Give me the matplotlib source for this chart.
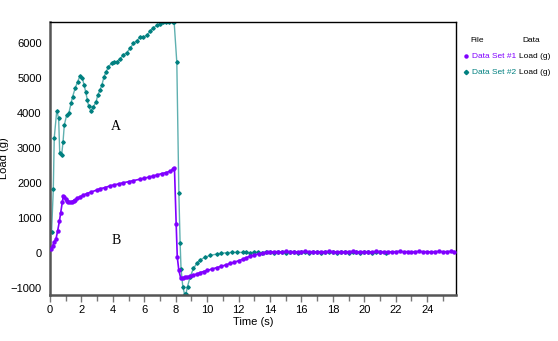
import numpy as np
import matplotlib
matplotlib.use("Agg")
import matplotlib.pyplot as plt
from matplotlib.ticker import MultipleLocator

plt.rcParams['font.family'] = ['Liberation Sans', 'DejaVu Sans']

# Data Set #1 (purple)
t1 = [0.04, 0.17, 0.27, 0.38, 0.49, 0.6, 0.68, 0.79, 0.85, 0.92, 0.99, 1.08, 1.17, 1.27,
      1.38, 1.5, 1.6, 1.75, 1.91, 2.1, 2.34, 2.6, 2.97, 3.2, 3.5, 3.82, 4.1, 4.4, 4.67,
      5.0, 5.3, 5.73, 6.0, 6.3, 6.55, 6.8, 7.1, 7.4, 7.65, 7.85, 7.92, 8.03, 8.1, 8.2,
      8.32, 8.45, 8.58, 8.7, 8.9, 9.13, 9.35, 9.55, 9.77, 10.0, 10.3, 10.6, 10.9, 11.2,
      11.45, 11.7, 12.0, 12.25, 12.5, 12.74, 13.0, 13.3, 13.55, 13.8,
      14.0, 14.25, 14.5, 14.75, 15.0, 15.25, 15.5, 15.75, 16.0, 16.25, 16.5, 16.75,
      17.0, 17.25, 17.5, 17.75, 18.0, 18.25, 18.5, 18.75, 19.0, 19.25, 19.5, 19.75,
      20.0, 20.25, 20.5, 20.75, 21.0, 21.25, 21.5, 21.75, 22.0, 22.25, 22.5, 22.75,
      23.0, 23.25, 23.5, 23.75, 24.0, 24.25, 24.5, 24.75, 25.0, 25.25, 25.5, 25.7]
load1 = [110, 200, 320, 400, 640, 910, 1150, 1470, 1630, 1590, 1550, 1500, 1470, 1460,
         1470, 1500, 1520, 1570, 1610, 1650, 1700, 1740, 1800, 1840, 1870, 1920, 1950, 1980, 2010,
         2040, 2070, 2110, 2140, 2170, 2200, 2230, 2270, 2300, 2340, 2400, 2430, 820, -120, -500,
         -720, -720, -700, -690, -660, -630, -600, -560, -530, -500, -460, -420, -380, -340,
         -300, -270, -220, -180, -130, -90, -60, -20, 0, 20,
         30, 35, 40, 30, 45, 35, 40, 30, 40, 45, 35, 40,
         30, 40, 35, 45, 40, 30, 40, 35, 40, 45, 30, 40,
         35, 40, 30, 45, 40, 35, 40, 30, 40, 45, 35, 40,
         30, 40, 45, 35, 40, 30, 40, 45, 35, 40, 45, 40]

# Data Set #2 (teal)
t2 = [0.1, 0.21, 0.27, 0.43, 0.55, 0.62, 0.74, 0.83, 0.91, 1.06, 1.2, 1.34, 1.44, 1.6,
      1.76, 1.91, 2.06, 2.17, 2.27, 2.38, 2.46, 2.6, 2.76, 2.93, 3.04, 3.18, 3.3, 3.44,
      3.57, 3.72, 3.93, 4.1, 4.25, 4.46, 4.67, 4.88, 5.1, 5.3, 5.52, 5.73, 5.94, 6.16,
      6.37, 6.58, 6.8, 7.0, 7.2, 7.4, 7.6, 7.8, 7.9, 8.07, 8.2, 8.28, 8.34, 8.45, 8.56,
      8.65, 8.75, 8.92, 9.13, 9.34, 9.55, 9.87, 10.2, 10.6, 10.9, 11.25, 11.6, 11.9,
      12.25, 12.5, 12.75, 13.0, 13.25, 13.5, 13.75, 14.0, 14.25, 14.5, 14.75, 15.0,
      15.25, 15.5, 15.75, 16.0, 16.25, 16.5, 16.75, 17.0, 17.25, 17.5, 17.75, 18.0,
      18.25, 18.5, 18.75, 19.0, 19.25, 19.5, 19.75, 20.0, 20.25, 20.5, 20.75, 21.0, 21.4]
load2 = [590, 1820, 3290, 4070, 3850, 2850, 2800, 3180, 3660, 3940, 4000, 4280, 4470, 4710,
         4900, 5060, 5000, 4800, 4610, 4370, 4200, 4060, 4180, 4320, 4510, 4660, 4800, 5040,
         5180, 5320, 5440, 5470, 5470, 5560, 5660, 5730, 5850, 5990, 6070, 6170, 6170, 6230,
         6340, 6440, 6510, 6560, 6600, 6600, 6600, 6600, 6600, 5450, 1720, 290, -460, -960, -1170,
         -1170, -960, -680, -440, -300, -200, -120, -70, -30, -10, 10, 15, 20,
         15, 20, 10, 20, 15, 10, 20, 15, 10, 20, 15, 10,
         20, 15, 10, 15, 20, 10, 15, 20, 10, 15, 20, 15,
         10, 20, 15, 10, 20, 15, 10, 20, 15, 10, 20, 15, 10]

purple = '#8000ff'
teal = '#008080'

fig = plt.figure(figsize=(5.58, 3.41), dpi=100)
ax = fig.add_axes([0.0896, 0.135, 0.728, 0.8])

ax.plot(t2, load2, color='#5fb0b0', lw=1.0, marker='D', ms=1.8,
        mfc=teal, mec=teal, zorder=2)
ax.plot(t1, load1, color=purple, lw=1.2, marker='o', ms=2.2,
        mfc=purple, mec=purple, zorder=3)

ax.set_xlim(0, 25.85)
ax.set_ylim(-1200, 6600)
ax.xaxis.set_major_locator(MultipleLocator(2))
ax.xaxis.set_minor_locator(MultipleLocator(1))
ax.yaxis.set_major_locator(MultipleLocator(1000))

for side in ['left', 'bottom']:
    ax.spines[side].set_color('#555555')
    ax.spines[side].set_linewidth(1.8)
for side in ['top', 'right']:
    ax.spines[side].set_color('black')
    ax.spines[side].set_linewidth(1.0)

ax.tick_params(axis='x', which='both', direction='out', color='#777777',
               labelsize=8, pad=2)
ax.tick_params(axis='x', which='major', length=5, width=1)
ax.tick_params(axis='x', which='minor', length=4, width=1)
ax.tick_params(axis='y', length=0, labelsize=8, pad=6)

ax.set_xlabel('Time (s)', fontsize=8, labelpad=2)
ax.set_ylabel('Load (g)', fontsize=8, labelpad=1)

ax.text(4.2, 3630, 'A', family='Liberation Serif', fontsize=10, ha='center', va='center')
ax.text(4.2, 370, 'B', family='Liberation Serif', fontsize=10, ha='center', va='center')

# legend drawn as text to the right of the plot
W, H = 558, 341
fig.text(470 / W, 1 - 41 / H, 'File', fontsize=6, va='center')
fig.text(522 / W, 1 - 41 / H, 'Data', fontsize=6, va='center')
rows = [('Data Set #1', purple, 'o', 56), ('Data Set #2', teal, 'D', 72)]
for name, col, mk, yy in rows:
    fig.lines.append(plt.Line2D([465.5 / W], [1 - yy / H], marker=mk, ms=2.2,
                                color=col, transform=fig.transFigure))
    fig.text(472 / W, 1 - yy / H, name, fontsize=6, color=col, va='center')
    fig.text(519 / W, 1 - yy / H, 'Load (g)', fontsize=6, color='black', va='center')

fig.savefig('out.png', dpi=100)
